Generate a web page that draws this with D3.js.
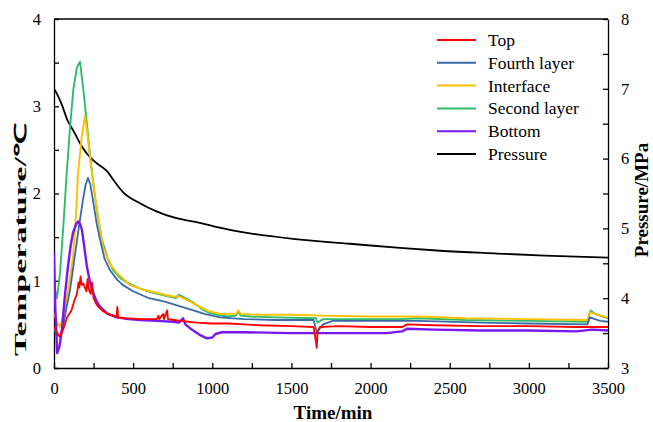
<!DOCTYPE html>
<html>
<head>
<meta charset="utf-8">
<script src="https://cdn.jsdelivr.net/npm/d3@7"></script>
<style>
  body { margin: 0; background: #fff; }
  svg text { font-family: "Liberation Serif", "Times New Roman", serif; fill: #000; }
</style>
</head>
<body>
<div id="chart"></div>
<script>
// data: [time (min), value]
var topT = [[0,0.47],[20,0.40],[38,0.36],[60,0.45],[82,0.58],[110,0.66],[130,0.78],[145,0.85],[155,0.98],[160,0.92],[168,1.05],[175,0.95],[185,0.97],[195,0.92],[205,0.88],[212,1.02],[220,0.90],[232,0.85],[240,0.98],[250,0.80],[265,0.74],[280,0.70],[310,0.65],[340,0.62],[380,0.60],[395,0.58],[400,0.70],[405,0.58],[450,0.57],[550,0.56],[650,0.56],[660,0.60],[665,0.56],[690,0.62],[695,0.56],[715,0.66],[720,0.56],[760,0.55],[800,0.54],[850,0.53],[900,0.52],[1000,0.51],[1100,0.51],[1200,0.50],[1300,0.49],[1500,0.48],[1640,0.47],[1655,0.30],[1660,0.23],[1665,0.42],[1680,0.47],[1800,0.48],[2000,0.47],[2200,0.47],[2230,0.50],[2400,0.49],[2700,0.48],[3000,0.48],[3300,0.47],[3500,0.47]];
var fourthT = [[0,0.44],[20,0.38],[38,0.36],[60,0.50],[80,0.70],[101,0.89],[125,1.20],[152,1.55],[183,1.93],[200,2.10],[215,2.18],[230,2.10],[248,1.90],[270,1.65],[291,1.47],[320,1.25],[354,1.12],[400,1.01],[436,0.95],[500,0.88],[600,0.80],[700,0.76],[808,0.70],[880,0.66],[950,0.62],[1050,0.58],[1200,0.56],[1400,0.55],[1640,0.55],[1660,0.41],[1700,0.50],[1760,0.54],[2000,0.54],[2300,0.54],[2700,0.52],[3000,0.51],[3370,0.50],[3385,0.58],[3450,0.54],[3500,0.53]];
var interfaceT = [[0,0.63],[20,0.52],[38,0.47],[60,0.60],[90,0.90],[120,1.27],[140,1.80],[152,2.23],[175,2.65],[196,2.89],[210,2.70],[227,2.42],[259,1.96],[285,1.65],[310,1.39],[350,1.20],[398,1.09],[480,0.95],[560,0.90],[651,0.86],[750,0.82],[790,0.82],[815,0.80],[860,0.76],[922,0.70],[980,0.65],[1050,0.62],[1150,0.62],[1165,0.66],[1180,0.62],[1300,0.61],[1500,0.61],[1700,0.60],[2000,0.59],[2300,0.59],[2600,0.57],[3000,0.56],[3370,0.55],[3385,0.64],[3450,0.60],[3500,0.58]];
var secondT = [[0,0.95],[19,0.80],[38,1.09],[60,1.65],[80,2.23],[101,2.75],[122,3.19],[145,3.45],[164,3.51],[185,3.20],[207,2.81],[230,2.40],[248,2.12],[275,1.75],[303,1.47],[340,1.25],[374,1.12],[420,1.03],[461,0.98],[530,0.92],[607,0.87],[700,0.83],[770,0.80],[790,0.84],[810,0.82],[880,0.75],[940,0.67],[986,0.63],[1091,0.59],[1150,0.60],[1164,0.65],[1180,0.60],[1238,0.59],[1400,0.58],[1655,0.57],[1665,0.52],[1700,0.56],[2000,0.56],[2200,0.56],[2300,0.57],[2600,0.55],[3000,0.54],[3370,0.53],[3390,0.66],[3420,0.62],[3500,0.57]];
var bottomT = [[0,1.32],[8,0.70],[20,0.17],[35,0.25],[50,0.44],[70,0.85],[88,1.16],[105,1.40],[120,1.55],[140,1.65],[152,1.68],[165,1.65],[177,1.58],[192,1.38],[208,1.16],[228,0.98],[248,0.86],[270,0.76],[291,0.70],[340,0.62],[398,0.58],[470,0.56],[543,0.55],[650,0.54],[752,0.53],[790,0.52],[815,0.57],[830,0.50],[870,0.44],[920,0.38],[966,0.34],[1000,0.35],[1020,0.39],[1060,0.41],[1200,0.41],[1500,0.40],[1800,0.40],[2100,0.40],[2200,0.42],[2230,0.45],[2400,0.44],[2700,0.43],[3000,0.43],[3300,0.42],[3400,0.44],[3500,0.43]];
var pressure = [[0,7.0],[25,6.9],[50,6.77],[85,6.55],[120,6.41],[177,6.17],[227,6.02],[272,5.93],[335,5.82],[380,5.68],[436,5.52],[543,5.36],[651,5.24],[752,5.16],[850,5.11],[922,5.08],[1030,5.02],[1238,4.93],[1510,4.85],[1870,4.78],[2186,4.72],[2439,4.68],[2800,4.64],[3100,4.61],[3500,4.58]];

var seriesNames = ["Top", "Fourth layer", "Interface", "Second layer", "Bottom", "Pressure"];
var xTicks = [0, 500, 1000, 1500, 2000, 2500, 3000, 3500];
var yLeftTicks = [0, 1, 2, 3, 4];
var yRightTicks = [3, 4, 5, 6, 7, 8];

var colors = {
    "Top": "#ff0000",
    "Fourth layer": "#3a6aa6",
    "Interface": "#ffc000",
    "Second layer": "#2dbd68",
    "Bottom": "#7a16ee",
    "Pressure": "#000000"
};

var width = 653, height = 422;
var margin = { top: 19, left: 54, right: 45, bottom: 54 };
var w = width - margin.left - margin.right;
var h = height - margin.top - margin.bottom;

var svg = d3.select("#chart")
    .append("svg")
    .attr("width", width)
    .attr("height", height);

var g = svg.append("g")
    .attr("transform", "translate(" + margin.left + "," + margin.top + ")");

var x = d3.scaleLinear().domain([0, 3500]).range([0, w]);
var yL = d3.scaleLinear().domain([0, 4]).range([h, 0]);
var yR = d3.scaleLinear().domain([3, 8]).range([h, 0]);

g.append("clipPath").attr("id", "clip")
    .append("rect").attr("width", w).attr("height", h);

// axes, ticks inward
var minorX = d3.range(0, 3501, 250);
var minorL = d3.range(0, 4.01, 0.5);
var minorR = d3.range(3, 8.01, 0.5);

function fmt(list) {
    return function (d) { return list.indexOf(d) >= 0 ? d : ""; };
}

g.append("g")
    .attr("class", "x axis")
    .attr("transform", "translate(0," + h + ")")
    .call(d3.axisBottom(x).tickValues(minorX).tickFormat(fmt(xTicks)).tickSizeInner(-5).tickSizeOuter(0).tickPadding(14));

g.append("g")
    .attr("class", "y axis")
    .call(d3.axisLeft(yL).tickValues(minorL).tickFormat(fmt(yLeftTicks)).tickSizeInner(-5).tickSizeOuter(0).tickPadding(13));

g.append("g")
    .attr("class", "y2 axis")
    .attr("transform", "translate(" + w + ",0)")
    .call(d3.axisRight(yR).tickValues(minorR).tickFormat(fmt(yRightTicks)).tickSizeInner(-5).tickSizeOuter(0).tickPadding(13));

g.selectAll(".axis").attr("font-family", null);
g.selectAll(".axis text")
    .style("font-size", "16.5px")
    .attr("fill", "#000");
g.selectAll(".axis path, .axis line").attr("stroke", "#000").attr("stroke-width", 1.3);

// top border
g.append("line")
    .attr("x1", 0).attr("x2", w)
    .attr("y1", 0).attr("y2", 0)
    .attr("stroke", "#000").attr("stroke-width", 1.3);

// lines
var lineL = d3.line().x(d => x(d[0])).y(d => yL(d[1]));
var lineR = d3.line().x(d => x(d[0])).y(d => yR(d[1])).curve(d3.curveMonotoneX);

var plot = g.append("g").attr("clip-path", "url(#clip)");

plot.append("path").datum(pressure)
    .attr("fill", "none").attr("stroke", colors["Pressure"]).attr("stroke-width", 1.8)
    .attr("stroke-linejoin", "round").attr("d", lineR);

var order = [["Second layer", secondT, 1.9], ["Interface", interfaceT, 1.9], ["Fourth layer", fourthT, 1.8],
             ["Bottom", bottomT, 2.4], ["Top", topT, 1.8]];
order.forEach(function (s) {
    plot.append("path").datum(s[1])
        .attr("fill", "none")
        .attr("stroke", colors[s[0]])
        .attr("stroke-width", s[2])
        .attr("stroke-linejoin", "round")
        .attr("d", lineL);
});

// legend
var glegend = svg.selectAll(".legend")
    .data(seriesNames)
    .join("g")
    .attr("class", "legend")
    .attr("transform", (d, i) => `translate(437,${40 + i * 22.8})`);

glegend.append("line")
    .attr("x1", 0).attr("x2", 39)
    .attr("y1", 0).attr("y2", 0)
    .attr("stroke", d => colors[d])
    .attr("stroke-width", 2);

glegend.append("text")
    .attr("x", 51)
    .attr("y", 6)
    .style("font-size", "17.5px")
    .text(d => d);

// axis titles
svg.append("text")
    .attr("x", 333).attr("y", 419)
    .attr("text-anchor", "middle")
    .style("font-size", "19px").style("font-weight", "bold")
    .text("Time/min");

svg.append("text")
    .attr("transform", "translate(26,240) rotate(-90)")
    .attr("text-anchor", "middle")
    .attr("textLength", 232).attr("lengthAdjust", "spacingAndGlyphs")
    .style("font-size", "16.5px").style("font-weight", "bold")
    .text("Temperature/℃");

svg.append("text")
    .attr("transform", "translate(648,200) rotate(-90)")
    .attr("text-anchor", "middle")
    .style("font-size", "19px").style("font-weight", "bold")
    .text("Pressure/MPa");
</script>
</body>
</html>
